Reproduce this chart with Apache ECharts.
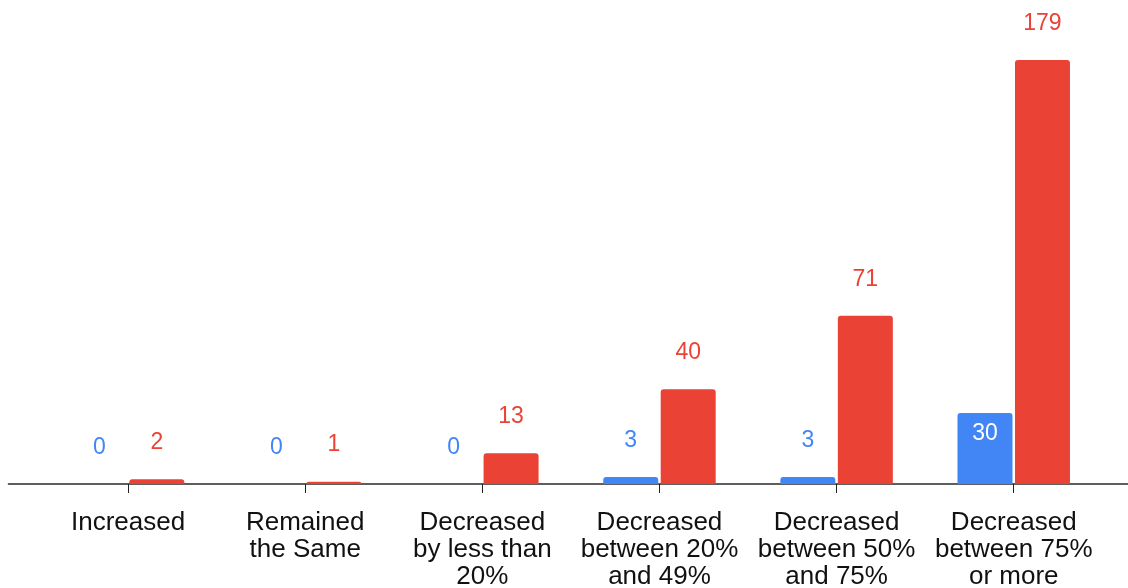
<!DOCTYPE html>
<html>
<head>
<meta charset="utf-8">
<script src="https://cdn.jsdelivr.net/npm/echarts@6/dist/echarts.min.js"></script>
<style>
html,body{margin:0;padding:0;background:#fff;}
#chart{width:1128px;height:588px;}
</style>
</head>
<body>
<div id="chart"></div>
<script>
const categories = [
  "Increased",
  "Remained\nthe Same",
  "Decreased\nby less than\n20%",
  "Decreased\nbetween 20%\nand 49%",
  "Decreased\nbetween 50%\nand 75%",
  "Decreased\nbetween 75%\nor more"
];
const blueValues = [0, 0, 0, 3, 3, 30];
const redValues = [2, 1, 13, 40, 71, 179];
const yMax = 200;

const BLUE = '#4285F4';
const RED = '#EA4335';
const FONT = '"Liberation Sans", Arial, sans-serif';

const chart = echarts.init(document.getElementById('chart'), null, {renderer: 'canvas'});

const blueData = blueValues.map(v => {
  if (v >= 20) {
    return {value: v, label: {position: 'insideTop', color: '#fff', distance: 9}};
  }
  return v;
});

chart.setOption({
  animation: false,
  backgroundColor: '#fff',
  grid: [
    {left: 39.5, right: 25.7, top: 10.3, bottom: 104, containLabel: false, outerBoundsMode: 'none'},
    {left: 8.5, right: 0, top: 10.3, bottom: 104, containLabel: false, outerBoundsMode: 'none'}
  ],
  xAxis: [
    {
      type: 'category',
      gridIndex: 0,
      data: categories,
      axisLine: {show: false},
      axisTick: {show: true, alignWithLabel: true, length: 9, lineStyle: {color: '#222', width: 1}},
      axisLabel: {
        interval: 0,
        color: '#111',
        fontFamily: FONT,
        fontSize: 26,
        lineHeight: 27,
        margin: 25
      }
    },
    {
      type: 'value',
      gridIndex: 1,
      min: 0, max: 1,
      axisLine: {show: true, onZero: false, lineStyle: {color: '#2a2a2a', width: 1.6}},
      axisTick: {show: false},
      axisLabel: {show: false},
      splitLine: {show: false}
    }
  ],
  yAxis: [
    {type: 'value', gridIndex: 0, min: 0, max: yMax, show: false, splitLine: {show: false}},
    {type: 'value', gridIndex: 1, min: 0, max: 1, show: false, splitLine: {show: false}}
  ],
  series: [
    {
      type: 'bar',
      xAxisIndex: 0, yAxisIndex: 0,
      data: blueData,
      barWidth: 55,
      barGap: '4.5%',
      itemStyle: {color: BLUE, borderRadius: [3, 3, 0, 0]},
      label: {
        show: true, position: 'top', distance: 25,
        color: BLUE, fontFamily: FONT, fontSize: 23
      },
      z: 3
    },
    {
      type: 'bar',
      xAxisIndex: 0, yAxisIndex: 0,
      data: redValues,
      barWidth: 55,
      barGap: '4.5%',
      itemStyle: {color: RED, borderRadius: [3, 3, 0, 0]},
      label: {
        show: true, position: 'top', distance: 25,
        color: RED, fontFamily: FONT, fontSize: 23
      },
      z: 3
    }
  ]
});
</script>
</body>
</html>
